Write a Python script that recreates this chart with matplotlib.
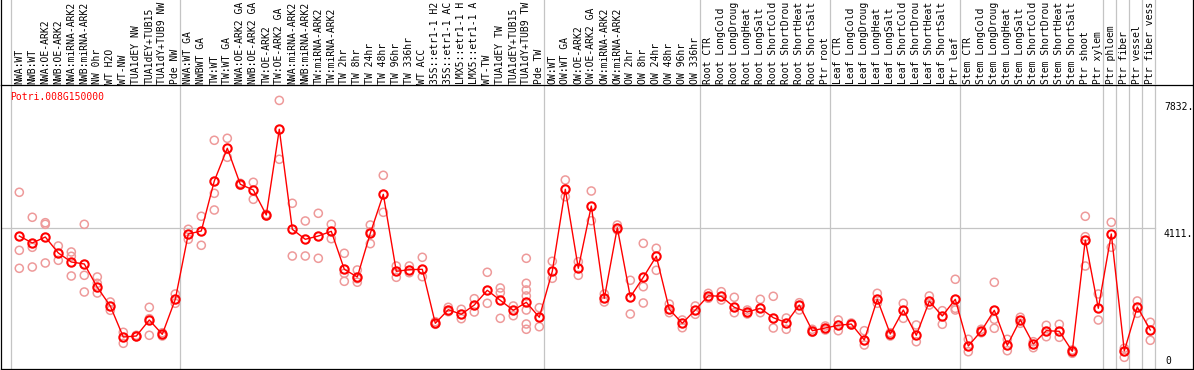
import numpy as np
import matplotlib
matplotlib.use("Agg")
import matplotlib.pyplot as plt

# ---- data ----
gene = "Potri.008G150000"

samples = [
    "NWA:WT", "NWB:WT", "NWA:OE-ARK2", "NWB:OE-ARK2", "NWA:miRNA-ARK2", "NWB:miRNA-ARK2",
    "NW 0hr", "WT H2O", "WT-NW", "TUA1dEY NW", "TUA1dEY+TUB15 NW", "TUA1dY+TUB9 NW", "Pde NW",
    "NWA:WT GA", "NWBWT GA", "TW:WT", "TW:WT GA", "NWA:OE-ARK2 GA", "NWB:OE-ARK2 GA",
    "TW:OE-ARK2", "TW:OE-ARK2 GA", "NWA:miRNA-ARK2", "NWB:miRNA-ARK2", "TW:miRNA-ARK2",
    "TW:miRNA-ARK2", "TW 2hr", "TW 8hr", "TW 24hr", "TW 48hr", "TW 96hr", "TW 336hr", "WT ACC",
    "35S::etr1-1 H2O", "35S::etr1-1 ACC", "LMX5::etr1-1 H2O", "LMX5::etr1-1 ACC", "WT-TW",
    "TUA1dEY TW", "TUA1dEY+TUB15 TW", "TUA1dY+TUB9 TW", "Pde TW",
    "OW:WT", "OW:WT GA", "OW:OE-ARK2", "OW:OE-ARK2 GA", "OW:miRNA-ARK2", "OW:miRNA-ARK2",
    "OW 2hr", "OW 8hr", "OW 24hr", "OW 48hr", "OW 96hr", "OW 336hr",
    "Root CTR", "Root LongCold", "Root LongDrought", "Root LongHeat", "Root LongSalt",
    "Root ShortCold", "Root ShortDrought", "Root ShortHeat", "Root ShortSalt", "Ptr root",
    "Leaf CTR", "Leaf LongCold", "Leaf LongDrought", "Leaf LongHeat", "Leaf LongSalt",
    "Leaf ShortCold", "Leaf ShortDrought", "Leaf ShortHeat", "Leaf ShortSalt", "Ptr leaf",
    "Stem CTR", "Stem LongCold", "Stem LongDrought", "Stem LongHeat", "Stem LongSalt",
    "Stem ShortCold", "Stem ShortDrought", "Stem ShortHeat", "Stem ShortSalt", "Ptr shoot",
    "Ptr xylem", "Ptr phloem", "Ptr fiber", "Ptr vessel", "Ptr fiber vessel",
]
label_chars = 14  # header only has room for 14 characters

# first column of each group (vertical separators)
group_starts = [0, 13, 41, 53, 63, 73, 84, 85, 86, 87, 88]

means = [
    3878, 3674, 3849, 3383, 3120, 3062, 2382, 1837, 933, 962, 1429, 1012, 2032,
    3937, 4024, 5482, 6436, 5386, 5220, 4491, 6990, 4074, 3782, 3878, 4015, 2907,
    2683, 3957, 5094, 2849, 2896, 2907, 1333, 1729, 1595, 1866, 2295, 2003, 1712,
    1945, 1508,
    2849, 5240, 2936, 4753, 2062, 4120, 2100, 2674, 3286, 1741, 1333, 1720,
    2137, 2120, 1799, 1662, 1770, 1496, 1350, 1866, 1117, 1196,
    1274, 1312, 846, 2032, 1021, 1720, 983, 1974, 1545, 2032,
    671, 1108, 1712, 691, 1438, 729, 1117, 1099, 516, 3762, 1770,
    3937, 525, 1808, 1137,
]

replicates = [
    [5153, 3461, 2936], [4424, 3549, 2974], [4266, 4219, 3091], [3587, 3170],
    [3412, 3286, 2712], [4219, 2732, 2245], [2683, 2499, 2216], [1954, 1712],
    [1070, 749], [983, 942], [1799, 1467, 983], [1058, 962], [2187, 1916],
    [4074, 3782], [4453, 3607], [6669, 5123, 4636], [6727, 6173], [5415, 5357],
    [5444, 4948], [4511, 4462], [7832, 6115], [4832, 3295], [4316, 3295],
    [4540, 3228], [4219, 3800], [3374, 2790, 2557], [2887, 2633, 2530],
    [4199, 3654, 4000], [5648, 4569], [3003, 2674], [3003, 2808], [3257, 2692],
    [1379, 1303], [1799, 1671], [1741, 1467], [2050, 1662], [2820, 1916],
    [2362, 2225, 1478], [1837, 1554], [3228, 2499, 2304, 2129, 1720, 1312, 1158],
    [1788, 1233],
    [3141, 2645], [5511, 5024], [3129, 2732], [5190, 4324], [2187, 1954],
    [4199, 4053], [2587, 1604], [3665, 2400, 1925], [3520, 2878], [1895, 1642],
    [1429, 1204], [1837, 1595],
    [2207, 2062], [2254, 2012], [2091, 1642], [1720, 1604], [2032, 1642],
    [2120, 1196], [1487, 1158], [1933, 1720], [1158, 1070], [1254, 1137],
    [1429, 1117], [1341, 1283], [1117, 700], [2207, 1916], [1058, 962],
    [1916, 1478], [1283, 796], [2129, 1866], [1700, 1303], [2616, 1770, 1720],
    [866, 504], [1158, 1058], [2528, 1449, 1187], [866, 534], [1508, 1333],
    [796, 621], [1274, 942], [1303, 924], [554, 458], [4453, 3858, 3003],
    [2187, 1429],
    [4278, 3549], [604, 341], [1983, 1624], [1362, 837],
]

ytick_vals = [7832, 4111, 0]
ytick_text = ["7832.", "4111.", "0"]

# ---- layout in pixels ----
W, H = 1194, 370
x0px, step = 19.3, 13.0
def px2x(p):
    return (p - x0px) / step

y_top = 8281

fig = plt.figure(figsize=(W / 100, H / 100), dpi=100)
ax = fig.add_axes([1 / W, 1 / H, 1192 / W, 284 / H])
hx = fig.add_axes([1 / W, 285 / H, 1192 / W, 85 / H])

for a in (ax, hx):
    a.set_xlim(px2x(1), px2x(1193))
    a.set_xticks([])
    a.set_yticks([])
    for s in a.spines.values():
        s.set_color("black")
        s.set_linewidth(0.9)
    a.patch.set_alpha(0)
hx.set_ylim(0, 1)
hx.spines["top"].set_visible(False)
hx.spines["bottom"].set_visible(False)
ax.set_ylim(0, y_top)

grid_c = "#c4c4c4"
for g in group_starts:
    for a in (ax, hx):
        a.axvline(g - 0.66, color=grid_c, lw=0.9, zorder=1)
ax.plot([px2x(1), px2x(1155)], [4111, 4111], color=grid_c, lw=0.9, zorder=1)

x = np.arange(len(samples))

# replicates
rx, ry = [], []
for i, reps in enumerate(replicates):
    rx += [i] * len(reps)
    ry += reps
ax.scatter(rx, ry, s=34, facecolors="none", edgecolors="#ee9a9a", linewidths=1.1, zorder=2)

# means
ax.plot(x, means, color="red", lw=1.0, zorder=3)
ax.plot(x, means, "o", ms=6, mfc="none", mec="red", mew=1.5, zorder=4)

font = dict(family="DejaVu Sans Mono", size=7)

ax.text(0.0075, 1 - 12 / 284, gene, transform=ax.transAxes, color="red",
        va="center", ha="left", **font)

for v, t in zip(ytick_vals, ytick_text):
    if v == 0:
        ax.text(px2x(1165), v + 100, t, va="bottom", ha="left", **font)
    else:
        ax.text(px2x(1164), v - 40, t, va="top", ha="left", **font)

for i, lab in enumerate(samples):
    hx.text(i, 0.015, lab[:label_chars].rstrip(), rotation=90, ha="center",
            va="bottom", **font)

fig.savefig("out.png", dpi=100)
